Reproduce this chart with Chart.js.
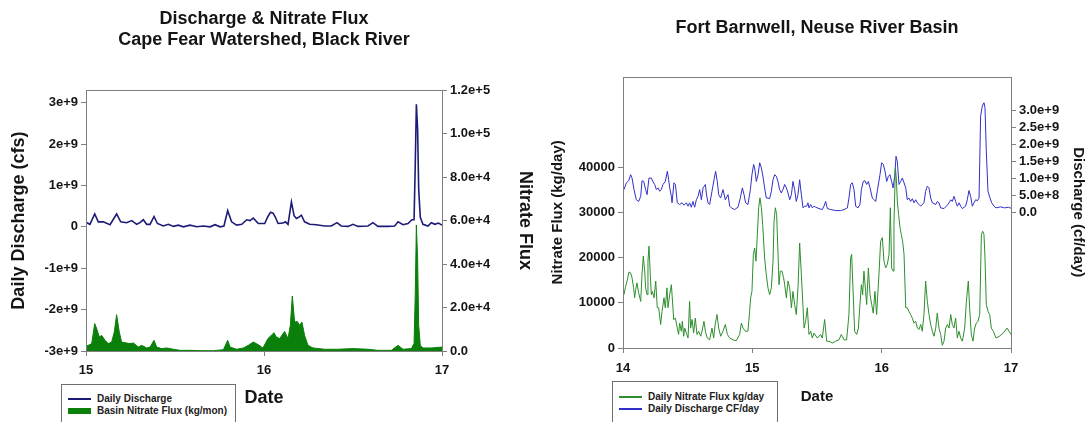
<!DOCTYPE html>
<html>
<head>
<meta charset="utf-8">
<script src="https://cdn.jsdelivr.net/npm/chart.js@4.4.1/dist/chart.umd.min.js"></script>
<style>
  html, body { margin: 0; padding: 0; background: #fff; overflow: hidden; }
  body { width: 1089px; height: 422px; position: relative; font-family: "Liberation Sans", Arial, sans-serif; }
  canvas { position: absolute; top: 0; }
  .legend { position: absolute; height: 60px; border: 1px solid #6f6f6f; background: #fff; box-sizing: border-box;
            font-weight: bold; font-size: 10px; color: #222; }
  .legend .row { height: 12px; line-height: 12px; display: flex; align-items: center; white-space: nowrap; }
  .legend .sw { display: inline-block; width: 23px; margin-right: 6px; }
</style>
</head>
<body>
<canvas id="blackChart" width="545" height="422" style="left:0"></canvas>
<canvas id="neuseChart" width="544" height="422" style="left:545px"></canvas>
<div id="blackLegend" class="legend" style="left:61px;top:384px;width:175px;padding:8px 0 0 6px"></div>
<div id="neuseLegend" class="legend" style="left:612px;top:381px;width:166px;padding:9px 0 0 6px"></div>
<script>
// Black River (left chart): discharge in cfs, nitrate flux in kg/mon
const blackTitle = ['Discharge & Nitrate Flux', 'Cape Fear Watershed, Black River'];
const blackQx = [15.0, 15.022, 15.049, 15.069, 15.097, 15.135, 15.172, 15.195, 15.228, 15.257, 15.285, 15.303, 15.322, 15.341, 15.36, 15.382, 15.401, 15.434, 15.463, 15.491, 15.519, 15.547, 15.584, 15.622, 15.659, 15.697, 15.725, 15.753, 15.775, 15.796, 15.818, 15.846, 15.875, 15.903, 15.921, 15.94, 15.968, 16.004, 16.022, 16.037, 16.051, 16.064, 16.079, 16.107, 16.12, 16.135, 16.154, 16.169, 16.182, 16.195, 16.21, 16.228, 16.257, 16.294, 16.341, 16.378, 16.41, 16.434, 16.472, 16.5, 16.528, 16.584, 16.612, 16.64, 16.697, 16.734, 16.753, 16.781, 16.809, 16.831, 16.843, 16.85, 16.856, 16.863, 16.869, 16.878, 16.893, 16.921, 16.94, 16.96, 16.98, 17.0];
const blackQ = [1.1e8, 6e7, 3.1e8, 1.2e8, 1.2e8, 5e7, 3.1e8, 1.2e8, 1.0e8, 1.5e8, 6e7, 1.0e8, 1.7e8, 6e7, 6e7, 2.5e8, 8e7, 2e7, 6e7, 1e7, 4e7, 0, 4e7, 0, 2e7, 0, 5e7, 0, 2e7, 3.9e8, 1.2e8, 4e7, 6e7, 1.7e8, 1.5e8, 2.1e8, 8e7, 8e7, 2.5e8, 3.5e8, 3.3e8, 2.3e8, 8e7, 9e7, 1.2e8, 6e7, 6.0e8, 2.7e8, 2.0e8, 2.3e8, 2.8e8, 1.2e8, 6e7, 5e7, 2e7, 2e7, 1.0e8, 2e7, 1e7, 6e7, 1e7, 2e7, 1.0e8, 1e7, 1e7, 2e7, 1.2e8, 5e7, 8e7, 1.7e8, 1.7e8, 1.55e9, 2.96e9, 2.36e9, 9.1e8, 2.3e8, 6e7, 2e7, 1.0e8, 6e7, 9e7, 4e7];
const blackNx = [15.0, 15.013, 15.032, 15.049, 15.06, 15.075, 15.088, 15.107, 15.125, 15.144, 15.159, 15.172, 15.187, 15.2, 15.219, 15.247, 15.266, 15.294, 15.313, 15.341, 15.36, 15.382, 15.397, 15.425, 15.453, 15.491, 15.528, 15.584, 15.64, 15.715, 15.772, 15.796, 15.809, 15.846, 15.884, 15.912, 15.94, 15.968, 15.994, 16.022, 16.041, 16.056, 16.069, 16.088, 16.116, 16.135, 16.148, 16.159, 16.172, 16.187, 16.2, 16.213, 16.228, 16.247, 16.275, 16.341, 16.416, 16.5, 16.584, 16.64, 16.715, 16.753, 16.781, 16.828, 16.843, 16.85, 16.856, 16.863, 16.869, 16.878, 16.893, 16.94, 17.0];
const blackN = [2300, 2600, 3400, 12600, 10300, 6400, 7200, 4900, 3400, 4100, 8700, 16700, 8700, 4100, 3800, 3400, 3700, 1800, 2600, 1400, 1800, 4900, 1800, 1100, 1400, 800, 300, 300, 150, 150, 600, 4900, 1800, 800, 1400, 2600, 4100, 2900, 1400, 5700, 7200, 8400, 6400, 5700, 9000, 5700, 11800, 25300, 13300, 13600, 11800, 13300, 7200, 2600, 1400, 800, 800, 1100, 800, 300, 300, 2600, 800, 1100, 3400, 27200, 58000, 42500, 11800, 2600, 1400, 1400, 1800];
const blackDateTicks = [15, 16, 17];
const blackQTicks = [-3e9, -2e9, -1e9, 0, 1e9, 2e9, 3e9];
const blackNTicks = [0, 2e4, 4e4, 6e4, 8e4, 1e5, 1.2e5];

// Fort Barnwell (right chart): nitrate flux in kg/day, discharge in 1e9 cf/day
const neuseTitle = 'Fort Barnwell, Neuse River Basin';
const neuseNx = [14.008, 14.018, 14.034, 14.046, 14.059, 14.07, 14.082, 14.09, 14.098, 14.108, 14.121, 14.137, 14.147, 14.157, 14.168, 14.175, 14.186, 14.193, 14.201, 14.211, 14.219, 14.227, 14.24, 14.253, 14.265, 14.276, 14.291, 14.302, 14.317, 14.327, 14.34, 14.348, 14.361, 14.374, 14.381, 14.392, 14.405, 14.42, 14.43, 14.438, 14.451, 14.459, 14.469, 14.477, 14.49, 14.503, 14.515, 14.523, 14.534, 14.546, 14.559, 14.572, 14.585, 14.601, 14.611, 14.626, 14.637, 14.652, 14.67, 14.688, 14.701, 14.714, 14.727, 14.74, 14.755, 14.773, 14.791, 14.807, 14.825, 14.851, 14.876, 14.902, 14.915, 14.928, 14.946, 14.966, 14.979, 14.987, 14.997, 15.008, 15.018, 15.028, 15.039, 15.049, 15.059, 15.07, 15.08, 15.095, 15.108, 15.121, 15.134, 15.147, 15.16, 15.168, 15.178, 15.188, 15.198, 15.206, 15.216, 15.229, 15.242, 15.25, 15.263, 15.276, 15.289, 15.302, 15.314, 15.327, 15.34, 15.353, 15.366, 15.379, 15.392, 15.4, 15.412, 15.425, 15.438, 15.451, 15.464, 15.477, 15.503, 15.528, 15.541, 15.559, 15.575, 15.593, 15.619, 15.644, 15.67, 15.688, 15.709, 15.729, 15.747, 15.76, 15.768, 15.778, 15.791, 15.807, 15.82, 15.832, 15.843, 15.853, 15.863, 15.876, 15.884, 15.897, 15.91, 15.923, 15.935, 15.948, 15.961, 15.979, 15.992, 16.005, 16.018, 16.031, 16.044, 16.057, 16.067, 16.077, 16.088, 16.095, 16.106, 16.113, 16.121, 16.131, 16.142, 16.152, 16.162, 16.173, 16.186, 16.198, 16.211, 16.224, 16.237, 16.25, 16.263, 16.276, 16.289, 16.302, 16.314, 16.327, 16.34, 16.353, 16.366, 16.379, 16.392, 16.405, 16.418, 16.43, 16.443, 16.456, 16.469, 16.482, 16.495, 16.508, 16.521, 16.534, 16.546, 16.559, 16.572, 16.585, 16.598, 16.611, 16.624, 16.642, 16.655, 16.67, 16.68, 16.693, 16.706, 16.719, 16.732, 16.745, 16.758, 16.771, 16.781, 16.791, 16.799, 16.809, 16.822, 16.835, 16.848, 16.863, 16.884, 16.91, 16.94, 16.97, 17.0];
const neuseN = [11800, 13300, 15100, 16800, 16600, 15500, 13300, 11100, 12900, 14400, 12200, 10300, 16200, 20300, 17000, 13300, 11800, 19200, 22500, 16200, 11800, 12500, 11100, 14800, 8900, 8900, 5200, 8100, 11100, 8900, 13300, 8900, 11800, 14000, 11100, 6300, 6600, 4400, 3000, 5500, 3700, 5900, 2600, 4400, 3300, 2200, 10300, 4400, 6300, 3300, 6600, 3000, 3700, 2600, 3700, 5900, 3700, 2200, 1800, 4400, 2200, 5500, 7400, 4400, 2600, 3700, 5200, 3000, 2200, 1800, 1600, 3000, 5500, 4400, 3700, 3700, 8100, 11100, 12500, 20700, 22100, 19200, 25100, 31000, 33200, 31000, 27300, 19900, 16200, 13300, 11800, 13300, 19200, 28000, 31000, 29500, 21400, 14000, 17000, 17000, 15500, 14000, 11100, 14800, 13300, 8900, 12500, 9600, 7400, 13300, 23200, 16200, 8900, 4400, 5900, 8900, 3000, 3700, 2200, 3300, 2200, 3000, 2200, 6300, 1500, 1500, 1100, 1500, 1800, 3000, 1800, 1800, 7400, 19900, 20700, 13300, 3700, 3000, 4400, 9600, 14000, 11800, 17000, 12500, 9600, 17700, 11800, 9600, 7700, 12500, 7400, 16200, 23600, 24400, 19200, 17700, 18500, 20700, 31000, 17700, 17000, 27300, 39900, 37600, 32500, 29500, 26600, 25100, 23600, 20700, 8900, 8900, 8100, 7400, 6600, 5500, 5900, 4400, 4100, 5200, 3700, 7400, 14800, 10300, 7400, 5200, 3700, 2600, 4400, 7700, 4400, 3000, 600, 1500, 4400, 5200, 4400, 7400, 5200, 4400, 6600, 2200, 3700, 2200, 1500, 4400, 10300, 14800, 8900, 3000, 1500, 4400, 5500, 5900, 7400, 25100, 25800, 25100, 19900, 9600, 8100, 7400, 4400, 3700, 2200, 2600, 3300, 4400, 3000];
const neuseQx = [14.008, 14.026, 14.044, 14.059, 14.07, 14.085, 14.103, 14.121, 14.137, 14.147, 14.16, 14.175, 14.186, 14.201, 14.219, 14.232, 14.245, 14.258, 14.271, 14.284, 14.296, 14.309, 14.327, 14.343, 14.353, 14.361, 14.374, 14.379, 14.394, 14.405, 14.42, 14.438, 14.456, 14.472, 14.49, 14.503, 14.515, 14.528, 14.541, 14.554, 14.567, 14.58, 14.593, 14.606, 14.619, 14.637, 14.644, 14.657, 14.67, 14.688, 14.704, 14.716, 14.729, 14.74, 14.755, 14.773, 14.791, 14.812, 14.825, 14.838, 14.863, 14.889, 14.907, 14.923, 14.936, 14.948, 14.966, 14.985, 14.997, 15.01, 15.018, 15.031, 15.044, 15.057, 15.07, 15.082, 15.095, 15.108, 15.121, 15.134, 15.147, 15.16, 15.173, 15.186, 15.198, 15.211, 15.224, 15.237, 15.25, 15.263, 15.276, 15.289, 15.302, 15.314, 15.327, 15.34, 15.353, 15.366, 15.379, 15.392, 15.405, 15.42, 15.43, 15.438, 15.451, 15.464, 15.477, 15.49, 15.515, 15.541, 15.554, 15.567, 15.58, 15.606, 15.644, 15.683, 15.709, 15.735, 15.747, 15.76, 15.773, 15.786, 15.799, 15.817, 15.832, 15.843, 15.858, 15.871, 15.884, 15.897, 15.91, 15.928, 15.941, 15.954, 15.966, 15.987, 16.0, 16.013, 16.026, 16.039, 16.052, 16.064, 16.077, 16.088, 16.101, 16.111, 16.121, 16.134, 16.147, 16.16, 16.173, 16.186, 16.198, 16.211, 16.224, 16.237, 16.25, 16.263, 16.276, 16.289, 16.302, 16.327, 16.34, 16.353, 16.366, 16.379, 16.392, 16.418, 16.43, 16.443, 16.456, 16.482, 16.508, 16.521, 16.534, 16.546, 16.559, 16.572, 16.585, 16.598, 16.611, 16.624, 16.649, 16.662, 16.675, 16.688, 16.701, 16.714, 16.727, 16.74, 16.753, 16.765, 16.778, 16.791, 16.799, 16.809, 16.822, 16.838, 16.851, 16.869, 16.884, 16.92, 16.95, 16.98, 17.0];
const neuseQ = [0.67, 0.87, 0.93, 1.11, 1.01, 0.67, 0.37, 0.32, 0.47, 0.93, 0.91, 0.67, 0.52, 1.01, 1.01, 0.9, 0.82, 0.67, 0.72, 0.62, 0.67, 0.82, 0.91, 1.21, 0.96, 0.72, 0.47, 0.28, 0.87, 0.82, 0.28, 0.23, 0.28, 0.21, 0.28, 0.18, 0.28, 0.15, 0.32, 0.15, 0.37, 0.47, 0.67, 0.37, 0.72, 0.82, 0.57, 0.28, 0.23, 0.62, 0.96, 1.21, 0.91, 0.52, 0.42, 0.67, 0.37, 0.52, 0.18, 0.13, 0.08, 0.15, 0.42, 0.72, 0.52, 0.28, 0.23, 0.67, 1.11, 1.41, 1.31, 0.91, 1.11, 1.46, 1.31, 1.06, 0.72, 0.42, 0.42, 0.4, 0.62, 0.96, 1.11, 1.06, 0.91, 0.67, 0.57, 0.67, 0.82, 0.72, 0.57, 0.37, 0.52, 0.91, 0.67, 0.32, 0.52, 0.96, 0.52, 0.13, 0.18, 0.18, 0.28, 0.13, 0.23, 0.13, 0.18, 0.15, 0.11, 0.08, 0.18, 0.32, 0.11, 0.08, 0.05, 0.05, 0.08, 0.13, 0.42, 0.82, 0.87, 0.67, 0.18, 0.13, 0.23, 0.67, 0.91, 0.93, 0.82, 0.91, 0.72, 0.42, 0.37, 0.32, 0.62, 1.11, 1.46, 1.41, 1.21, 0.91, 1.06, 1.11, 0.91, 0.72, 1.06, 1.65, 1.5, 0.82, 0.91, 1.01, 0.87, 0.72, 0.37, 0.42, 0.32, 0.4, 0.28, 0.37, 0.28, 0.23, 0.18, 0.28, 0.62, 0.77, 0.72, 0.42, 0.28, 0.23, 0.32, 0.28, 0.13, 0.11, 0.21, 0.28, 0.37, 0.32, 0.47, 0.32, 0.18, 0.28, 0.18, 0.11, 0.18, 0.37, 0.64, 0.47, 0.18, 0.28, 0.37, 0.34, 0.42, 2.83, 3.13, 3.23, 3.08, 1.8, 0.62, 0.42, 0.28, 0.18, 0.13, 0.16, 0.13, 0.15, 0.12];
const neuseDateTicks = [14, 15, 16, 17];
const neuseNTicks = [0, 10000, 20000, 30000, 40000];
const neuseQTicks = [0, 5e8, 1e9, 1.5e9, 2e9, 2.5e9, 3e9];

Chart.defaults.font.family = '"Liberation Sans", Arial, sans-serif';
Chart.defaults.font.weight = 'bold';
Chart.defaults.color = '#151515';
Chart.defaults.animation = false;

// box round the plot area
const frame = {
  id: 'frame',
  afterDraw(chart) {
    const { ctx, chartArea: a } = chart;
    ctx.save();
    ctx.strokeStyle = '#7f7f7f';
    ctx.lineWidth = 1;
    ctx.strokeRect(Math.round(a.left) + 0.5, Math.round(a.top) + 0.5,
                   Math.round(a.right - a.left), Math.round(a.bottom - a.top));
    ctx.restore();
  }
};

function pairs(xs, ys, k = 1) { return xs.map((x, i) => ({ x, y: ys[i] * k })); }
function fixedTicks(values) { return s => { s.ticks = values.map(value => ({ value })); }; }
const plain = v => String(v);
const sci = v => v === 0 ? '0' : v.toExponential();
const sci1 = v => v === 0 ? '0.0' : v.toExponential(1);
const tickGrid = { display: true, drawOnChartArea: false, drawTicks: true, tickLength: 5, color: '#7f7f7f' };

const black = new Chart(document.getElementById('blackChart'), {
  type: 'line',
  data: {
    datasets: [
      { label: 'Daily Discharge', data: pairs(blackQx, blackQ), yAxisID: 'y',
        borderColor: '#1c1c78', borderWidth: 1.6, pointRadius: 0, tension: 0, order: 0 },
      { label: 'Basin Nitrate Flux (kg/mon)', data: pairs(blackNx, blackN), yAxisID: 'y2',
        borderColor: '#0a800a', backgroundColor: '#0a800a', borderWidth: 1, fill: 'origin',
        pointRadius: 0, tension: 0, order: 1 }
    ]
  },
  options: {
    responsive: false,
    layout: { padding: { left: 4, right: 4, top: 0, bottom: 0 } },
    plugins: {
      legend: { display: false },
      tooltip: { enabled: false },
      title: { display: true, text: blackTitle, fullSize: false, color: '#151515',
               font: { size: 18, weight: 'bold', lineHeight: 1.2 }, padding: { top: 8, bottom: 39 } }
    },
    scales: {
      x: { type: 'linear', min: 15, max: 17, afterBuildTicks: fixedTicks(blackDateTicks),
           afterFit: s => { s.height = 71; }, grid: tickGrid, border: { display: false },
           ticks: { font: { size: 13 }, padding: 7, callback: plain },
           title: { display: true, text: 'Date', font: { size: 18 }, padding: { top: 0, bottom: 13 } } },
      y: { position: 'left', min: -3e9, max: 3.3e9, afterBuildTicks: fixedTicks(blackQTicks),
           afterFit: s => { s.width = 82; }, grid: tickGrid, border: { display: false },
           ticks: { font: { size: 13 }, padding: 3, callback: sci },
           title: { display: true, text: 'Daily Discharge (cfs)', font: { size: 18 }, padding: { top: 4, bottom: 0 } } },
      y2: { position: 'right', min: 0, max: 1.2e5, afterBuildTicks: fixedTicks(blackNTicks),
            afterFit: s => { s.width = 99; }, grid: tickGrid, border: { display: false },
            ticks: { font: { size: 13 }, padding: 3, callback: sci1 },
            title: { display: true, text: 'Nitrate Flux', font: { size: 18 }, padding: { top: 5, bottom: 0 } } }
    }
  },
  plugins: [frame]
});

const neuse = new Chart(document.getElementById('neuseChart'), {
  type: 'line',
  data: {
    datasets: [
      { label: 'Daily Nitrate Flux kg/day', data: pairs(neuseNx, neuseN), yAxisID: 'y',
        borderColor: '#2e8e2e', borderWidth: 1, pointRadius: 0, tension: 0 },
      { label: 'Daily Discharge CF/day', data: pairs(neuseQx, neuseQ, 1e9), yAxisID: 'y2',
        borderColor: '#3030c8', borderWidth: 1, pointRadius: 0, tension: 0 }
    ]
  },
  options: {
    responsive: false,
    layout: { padding: { left: 4, right: 2, top: 0, bottom: 0 } },
    plugins: {
      legend: { display: false },
      tooltip: { enabled: false },
      title: { display: true, text: neuseTitle, fullSize: false, color: '#151515',
               font: { size: 18, weight: 'bold', lineHeight: 1.2 }, padding: { top: 17, bottom: 38 } }
    },
    scales: {
      x: { type: 'linear', min: 14, max: 17, afterBuildTicks: fixedTicks(neuseDateTicks),
           afterFit: s => { s.height = 74; }, grid: tickGrid, border: { display: false },
           ticks: { font: { size: 13 }, padding: 8, callback: plain },
           title: { display: true, text: 'Date', font: { size: 15 }, padding: { top: 0, bottom: 16 } } },
      y: { position: 'left', min: 0, max: 60000, afterBuildTicks: fixedTicks(neuseNTicks),
           afterFit: s => { s.width = 74; }, grid: tickGrid, border: { display: false },
           ticks: { font: { size: 13 }, padding: 3, callback: plain },
           title: { display: true, text: 'Nitrate Flux (kg/day)', font: { size: 15 }, padding: { top: 0, bottom: 0 } } },
      y2: { position: 'right', min: -4e9, max: 4e9, afterBuildTicks: fixedTicks(neuseQTicks),
            afterFit: s => { s.width = 76; }, grid: tickGrid, border: { display: false },
            ticks: { font: { size: 13 }, padding: 3, callback: sci1 },
            title: { display: true, text: 'Discharge (cf/day)', font: { size: 15 }, padding: { top: 0, bottom: 0 } } }
    }
  },
  plugins: [frame]
});

function buildLegend(id, chart) {
  const box = document.getElementById(id);
  chart.data.datasets.forEach(ds => {
    const row = document.createElement('div');
    row.className = 'row';
    const sw = document.createElement('span');
    sw.className = 'sw';
    sw.style.height = ds.fill ? '6px' : '2px';
    sw.style.background = ds.fill ? ds.backgroundColor : ds.borderColor;
    row.appendChild(sw);
    row.appendChild(document.createTextNode(ds.label));
    box.appendChild(row);
  });
}
buildLegend('blackLegend', black);
buildLegend('neuseLegend', neuse);
</script>
</body>
</html>
